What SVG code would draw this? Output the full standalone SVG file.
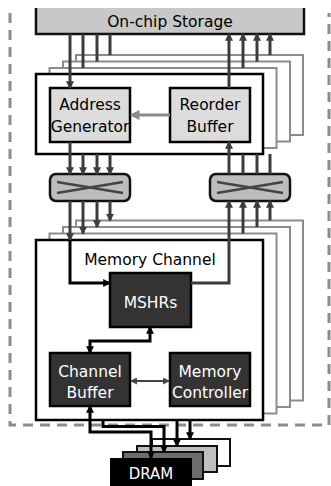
<svg xmlns="http://www.w3.org/2000/svg" width="331" height="486" viewBox="0 0 331 486">
  <style>
    text { font-family: "DejaVu Sans", "Liberation Sans", sans-serif; font-size: 15.5px; text-anchor: middle; }
    .dark-t { fill: #ffffff; }
    .copy { fill: #ffffff; stroke: #8c8c8c; stroke-width: 2; }
    .frame { fill: #ffffff; stroke: #000000; stroke-width: 2.5; }
    .light { fill: #dcdcdc; stroke: #000000; stroke-width: 2.5; }
    .solid { fill: #333333; stroke: #000000; stroke-width: 2.5; }
    .xbar { fill: #bdbdbd; stroke: #111111; stroke-width: 2.5; }
    .cross { stroke: #444444; stroke-width: 2.5; fill: none; }
    .bus { fill: none; stroke: #3c3c3c; stroke-width: 3; }
    .blk { fill: none; stroke: #000000; stroke-width: 3; }
    .gry { fill: none; stroke: #8a8a8a; stroke-width: 3; }
    .thin { fill: none; stroke: #444444; stroke-width: 2; }
    .end-d { marker-end: url(#hd); }
    .end-k { marker-end: url(#hk); }
  </style>
  <defs>
    <marker id="hd" viewBox="0 0 10 10" refX="8.5" refY="5" markerWidth="8" markerHeight="8" markerUnits="userSpaceOnUse" orient="auto-start-reverse">
      <path d="M0,0 L10,5 L0,10 z" fill="#3c3c3c"/>
    </marker>
    <marker id="hk" viewBox="0 0 10 10" refX="8.5" refY="5" markerWidth="8" markerHeight="8" markerUnits="userSpaceOnUse" orient="auto-start-reverse">
      <path d="M0,0 L10,5 L0,10 z" fill="#000000"/>
    </marker>
    <marker id="hg" viewBox="0 0 10 10" refX="8.5" refY="5" markerWidth="10" markerHeight="10" markerUnits="userSpaceOnUse" orient="auto-start-reverse">
      <path d="M0,0 L10,5 L0,10 z" fill="#8a8a8a"/>
    </marker>
    <marker id="hs" viewBox="0 0 10 10" refX="8.5" refY="5" markerWidth="7" markerHeight="7" markerUnits="userSpaceOnUse" orient="auto-start-reverse">
      <path d="M0,0 L10,5 L0,10 z" fill="#444444"/>
    </marker>
  </defs>

  <!-- accelerator boundary (dashed) -->
  <path d="M10,13 V425 H329 V13" fill="none" stroke="#8c8c8c" stroke-width="3" stroke-dasharray="10 7"/>

  <!-- shared on-chip storage -->
  <g id="storage">
    <rect x="36" y="8" width="268" height="26" fill="#c8c8c8"/>
    <path d="M36,8 V34 H304 V8" fill="none" stroke="#111111" stroke-width="2.5"/>
    <text x="170" y="26.5" style="font-size:15.5px">On-chip Storage</text>
  </g>

  <!-- stacked request units -->
  <g id="unit-stack">
    <rect class="copy" x="76" y="55" width="227" height="80"/>
    <rect class="copy" x="63" y="61.5" width="227" height="80"/>
    <rect class="copy" x="49.5" y="68" width="227" height="80"/>
    <rect class="frame" x="36" y="74" width="227" height="80"/>
  </g>
  <g id="address-generator">
    <rect class="light" x="50" y="88" width="80" height="54"/>
    <text x="90" y="110">Address</text>
    <text x="90" y="131.5">Generator</text>
  </g>
  <g id="reorder-buffer">
    <rect class="light" x="170" y="88" width="80" height="54"/>
    <text x="210" y="110">Reorder</text>
    <text x="210" y="131.5">Buffer</text>
  </g>

  <!-- crossbars -->
  <g id="crossbar-req">
    <rect class="xbar" x="50" y="174" width="80" height="27" rx="6"/>
    <path class="cross" d="M57,182 L123,193 M57,193 L123,182"/>
  </g>
  <g id="crossbar-resp">
    <rect class="xbar" x="210" y="174" width="80" height="27" rx="6"/>
    <path class="cross" d="M217,182 L283,193 M217,193 L283,182"/>
  </g>

  <!-- stacked memory channels -->
  <g id="channel-stack">
    <rect class="copy" x="76" y="220.5" width="227" height="180"/>
    <rect class="copy" x="63" y="227" width="227" height="180"/>
    <rect class="copy" x="49.5" y="233.5" width="227" height="180"/>
    <rect class="frame" x="36" y="240" width="227" height="180"/>
    <text x="150" y="265">Memory Channel</text>
  </g>
  <g id="mshrs">
    <rect class="solid" x="110" y="273" width="81" height="54"/>
    <text class="dark-t" x="150.5" y="308">MSHRs</text>
  </g>
  <g id="channel-buffer">
    <rect class="solid" x="50" y="353" width="80" height="53"/>
    <text class="dark-t" x="90" y="377">Channel</text>
    <text class="dark-t" x="90" y="398">Buffer</text>
  </g>
  <g id="memory-controller">
    <rect class="solid" x="170" y="353" width="80" height="53"/>
    <text class="dark-t" x="210" y="377">Memory</text>
    <text class="dark-t" x="210" y="398">Controller</text>
  </g>

  <!-- DRAM devices -->
  <g id="dram">
    <rect x="152" y="439" width="78" height="27" fill="#ffffff" stroke="#111111" stroke-width="2"/>
    <rect x="137" y="446" width="80" height="26" fill="#bfbfbf" stroke="#111111" stroke-width="2"/>
    <rect x="123" y="452" width="80" height="27" fill="#6c6c6c" stroke="#111111" stroke-width="2"/>
    <rect x="110" y="458" width="82" height="30" fill="#000000"/>
    <text class="dark-t" x="151" y="479" style="font-size:15px">DRAM</text>
  </g>

  <!-- connectors -->
  <g id="connectors">
    <!-- storage to request units -->
    <path class="bus end-d" d="M70,34 V88"/>
    <path class="bus" d="M83,34 V68 M97,34 V61.5 M110,34 V55"/>
    <!-- responses back to storage -->
    <path class="bus end-d" d="M229,88 V34"/>
    <path class="bus end-d" d="M243,68 V34"/>
    <path class="bus end-d" d="M257,61.5 V34"/>
    <path class="bus end-d" d="M270,55 V34"/>
    <!-- reorder buffer feeds address generator -->
    <path class="gry" d="M170,115 H131" marker-end="url(#hg)"/>
    <!-- request units to request crossbar -->
    <path class="bus end-d" d="M70,142 V174"/>
    <path class="bus end-d" d="M83,154 V174"/>
    <path class="bus end-d" d="M97,154 V174"/>
    <path class="bus end-d" d="M110,154 V174"/>
    <!-- response crossbar to request units -->
    <path class="bus end-d" d="M229,174 V142"/>
    <path class="bus" d="M243,174 V154 M257,174 V154 M270,174 V154"/>
    <!-- request crossbar to channels -->
    <path class="bus end-d" d="M70,201 V240"/>
    <path class="bus end-d" d="M83,201 V233.5"/>
    <path class="bus end-d" d="M97,201 V227"/>
    <path class="bus end-d" d="M110,201 V220.5"/>
    <!-- channels to response crossbar -->
    <path class="bus end-d" d="M229,240 V201"/>
    <path class="bus end-d" d="M243,233.5 V201"/>
    <path class="bus end-d" d="M257,227 V201"/>
    <path class="bus end-d" d="M270,220.5 V201"/>
    <!-- inside the channel -->
    <path class="blk end-k" d="M70,240 V283 H110"/>
    <path class="bus" d="M229,240 V283 H191"/>
    <path class="blk end-k" d="M150,327 V341 H90 V353" marker-start="url(#hk)"/>
    <path class="thin" d="M131,381 H169" marker-start="url(#hs)" marker-end="url(#hs)"/>
    <!-- channels to DRAM -->
    <path class="blk end-k" d="M90,406 V432 H151 V458" marker-start="url(#hk)"/>
    <path class="blk end-k" d="M103,420 V426.5 H164 V452"/>
    <path class="blk end-k" d="M177,420 V446"/>
    <path class="blk end-k" d="M190,420 V439"/>
  </g>
</svg>
